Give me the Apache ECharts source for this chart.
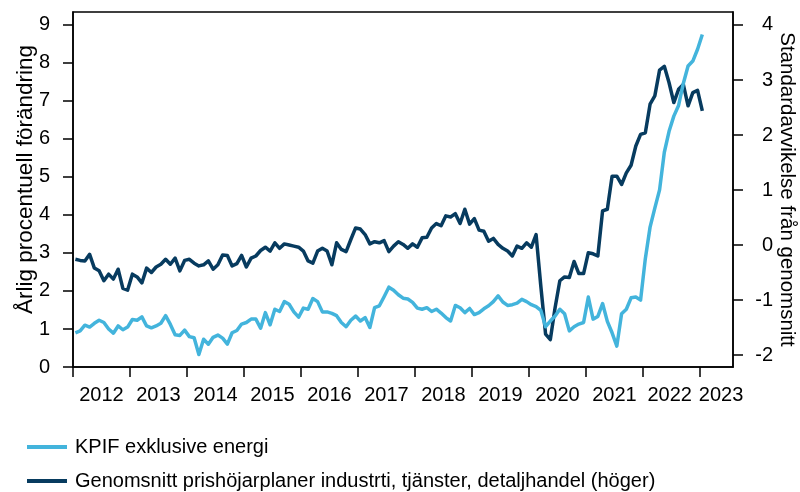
<!DOCTYPE html>
<html>
<head>
<meta charset="utf-8">
<script src="https://cdn.jsdelivr.net/npm/echarts@6/dist/echarts.min.js"></script>
<style>
html,body{margin:0;padding:0;background:#fff;}
#chart{width:800px;height:492px;}
</style>
</head>
<body>
<div id="chart"></div>
<script>
// Monthly observations, Jan 2012 .. Jan 2023
const startYear = 2012;
const monthCount = 133;
const months = [];
for (let k = 0; k < monthCount; k++) {
  const y = startYear + Math.floor(k / 12);
  const m = (k % 12) + 1;
  months.push(y + '-' + (m < 10 ? '0' + m : m));
}

// KPIF excl. energy, annual % change (left axis)
const kpifExEnergy = [
  0.90, 0.95, 1.10, 1.05, 1.15, 1.23, 1.17, 1.00, 0.89, 1.08, 0.98, 1.05,
  1.25, 1.23, 1.32, 1.08, 1.03, 1.08, 1.15, 1.35, 1.12, 0.85, 0.83, 0.97,
  0.80, 0.77, 0.33, 0.73, 0.60, 0.78, 0.84, 0.76, 0.60, 0.90, 0.96, 1.13,
  1.17, 1.26, 1.26, 1.02, 1.43, 1.11, 1.52, 1.46, 1.72, 1.65, 1.45, 1.31,
  1.55, 1.52, 1.80, 1.72, 1.45, 1.45, 1.41, 1.35, 1.17, 1.06, 1.23, 1.34,
  1.21, 1.30, 1.04, 1.56, 1.61, 1.85, 2.10, 2.02, 1.90, 1.81, 1.79, 1.70,
  1.55, 1.52, 1.56, 1.46, 1.52, 1.42, 1.30, 1.21, 1.62, 1.56, 1.43, 1.54,
  1.38, 1.43, 1.53, 1.61, 1.72, 1.87, 1.71, 1.62, 1.64, 1.68, 1.78, 1.72,
  1.64, 1.59, 1.49, 1.06, 1.21, 1.34, 1.52, 1.40, 0.95, 1.06, 1.13, 1.17,
  1.84, 1.26, 1.33, 1.67, 1.20, 0.90, 0.55, 1.40, 1.52, 1.82, 1.84, 1.76,
  2.85, 3.68, 4.18, 4.66, 5.65, 6.20, 6.60, 6.88, 7.46, 7.92, 8.05, 8.36,
  8.75
];

// Average price-raising plans, std. dev. from mean (right axis)
const pricePlans = [
  -0.26, -0.28, -0.29, -0.17, -0.42, -0.47, -0.65, -0.53, -0.62, -0.44, -0.79, -0.82,
  -0.53, -0.58, -0.69, -0.42, -0.50, -0.40, -0.35, -0.26, -0.35, -0.24, -0.47, -0.28,
  -0.26, -0.33, -0.38, -0.36, -0.29, -0.44, -0.36, -0.18, -0.19, -0.38, -0.34, -0.19,
  -0.40, -0.24, -0.20, -0.10, -0.04, -0.11, 0.04, -0.06, 0.02, 0.00, -0.02, -0.04,
  -0.11, -0.29, -0.33, -0.11, -0.06, -0.11, -0.36, 0.04, -0.08, -0.12, 0.10, 0.31,
  0.29, 0.19, 0.02, 0.06, 0.04, 0.08, -0.12, -0.02, 0.06, 0.01, -0.06, 0.02,
  -0.04, 0.13, 0.14, 0.31, 0.39, 0.35, 0.53, 0.51, 0.57, 0.39, 0.65, 0.38,
  0.48, 0.27, 0.25, 0.07, 0.12, 0.01, -0.06, -0.11, -0.20, -0.02, -0.06, 0.04,
  -0.04, 0.19, -0.75, -1.62, -1.72, -1.14, -0.65, -0.58, -0.59, -0.30, -0.52, -0.52,
  -0.14, -0.16, -0.20, 0.62, 0.65, 1.25, 1.25, 1.10, 1.31, 1.45, 1.80, 2.01,
  2.04, 2.56, 2.71, 3.18, 3.25, 2.95, 2.59, 2.83, 2.92, 2.53, 2.77, 2.81,
  2.44
];

const yearTicks = [2012, 2013, 2014, 2015, 2016, 2017, 2018, 2019, 2020, 2021, 2022, 2023];
const yearLabels = ['2012', '2013', '2014', '2015', '2016', '2017', '2018', '2019', '2020', '2021', '2022', '2023'];
const yearLabelPos = [2012.5, 2013.5, 2014.5, 2015.5, 2016.5, 2017.5, 2018.5, 2019.5, 2020.5, 2021.5, 2022.47, 2023.37];
const leftTicks = [0, 1, 2, 3, 4, 5, 6, 7, 8, 9];
const rightTicks = [-2, -1, 0, 1, 2, 3, 4];

const seriesNames = ['KPIF exklusive energi', 'Genomsnitt prishöjarplaner industrti, tjänster, detaljhandel (höger)'];
const colLight = '#43b4dc';
const colDark = '#073b5f';

function monthToX(s) {
  const p = s.split('-');
  return Number(p[0]) + (Number(p[1]) - 0.5) / 12;
}
const lightData = months.map((mo, k) => [monthToX(mo), kpifExEnergy[k]]);
const darkData = months.map((mo, k) => [monthToX(mo), pricePlans[k]]);

const FONT = 'Liberation Sans, Arial, sans-serif';
const legendBase = {
  orient: 'horizontal', left: 22, itemWidth: 40, itemHeight: 4, icon: 'rect',
  textStyle: {fontFamily: FONT, fontSize: 20, color: '#000', padding: [0, 0, 0, 3]}
};
const chart = echarts.init(document.getElementById('chart'), null, {renderer: 'canvas'});
chart.setOption({
  animation: false,
  backgroundColor: '#fff',
  grid: {left: 73, right: 67, top: 12, bottom: 125, show: true, borderColor: '#000', borderWidth: 1.5,
         containLabel: false, outerBoundsMode: 'none'},
  legend: [
    Object.assign({}, legendBase, {top: 432, data: [{name: seriesNames[0]}]}),
    Object.assign({}, legendBase, {top: 466, data: [{name: seriesNames[1]}]})
  ],
  xAxis: {
    type: 'value', min: 2012, max: 2023.58,
    axisLine: {show: true, lineStyle: {color: '#000', width: 1.5}},
    axisTick: {show: true, length: 10, inside: false, customValues: yearTicks, lineStyle: {color: '#000', width: 1.5}},
    axisLabel: {
      customValues: yearLabelPos, margin: 18,
      formatter: v => yearLabels[yearLabelPos.findIndex(p => Math.abs(p - v) < 1e-6)] || '',
      fontFamily: FONT, fontSize: 20, color: '#000'
    },
    splitLine: {show: false}
  },
  yAxis: [
    {
      type: 'value', min: 0, max: 9.34, position: 'left',
      name: 'Årlig procentuell förändring', nameLocation: 'middle', nameGap: 36, nameRotate: 90,
      nameMoveOverlap: false,
      nameTextStyle: {fontFamily: FONT, fontSize: 22.5, color: '#000', padding: [0, 0, 0, 20]},
      axisLine: {show: true, lineStyle: {color: '#000', width: 1.5}},
      axisTick: {show: true, length: 10, customValues: leftTicks, lineStyle: {color: '#000', width: 1.5}},
      axisLabel: {customValues: leftTicks, margin: 23, fontFamily: FONT, fontSize: 20, color: '#000'},
      splitLine: {show: false}
    },
    {
      type: 'value', min: -2.218, max: 4.236, position: 'right',
      name: 'Standardavvikelse från genomsnitt', nameLocation: 'middle', nameGap: 43, nameRotate: -90,
      nameMoveOverlap: false,
      nameTextStyle: {fontFamily: FONT, fontSize: 20.5, color: '#000'},
      axisLine: {show: true, lineStyle: {color: '#000', width: 1.5}},
      axisTick: {show: true, length: 10, customValues: rightTicks, lineStyle: {color: '#000', width: 1.5}},
      axisLabel: {customValues: rightTicks, margin: 40, align: 'right', fontFamily: FONT, fontSize: 20, color: '#000'},
      splitLine: {show: false}
    }
  ],
  series: [
    {
      name: seriesNames[1], type: 'line', yAxisIndex: 1, data: darkData,
      showSymbol: false, symbol: 'none', color: colDark,
      lineStyle: {color: colDark, width: 3.5, join: 'round'}
    },
    {
      name: seriesNames[0], type: 'line', yAxisIndex: 0, data: lightData,
      showSymbol: false, symbol: 'none', color: colLight,
      lineStyle: {color: colLight, width: 3.5, join: 'round'}
    }
  ]
});
</script>
</body>
</html>
